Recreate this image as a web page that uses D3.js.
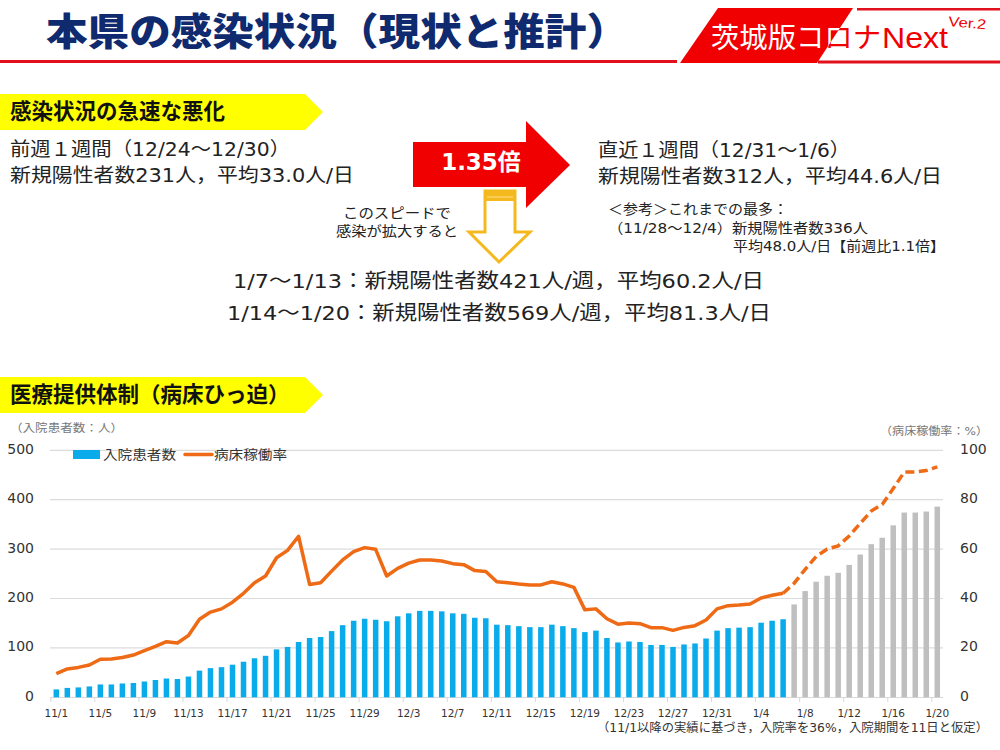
<!DOCTYPE html>
<html>
<head>
<meta charset="utf-8">
<script src="https://cdn.jsdelivr.net/npm/d3@7"></script>
<style>
html, body { margin: 0; padding: 0; background: #fff; }
svg { display: block; }
text { font-family: "DejaVu Sans", "Noto Sans CJK JP", sans-serif; fill: #222; }
.jp { font-family: "Noto Sans CJK JP", sans-serif; }
.axis .domain { display: none; }
.axis text { fill: #333; }
</style>
</head>
<body>
<div id="chart"></div>
<script>
var days = ['11/1','11/2','11/3','11/4','11/5','11/6','11/7','11/8','11/9','11/10','11/11','11/12','11/13','11/14','11/15','11/16','11/17','11/18','11/19','11/20','11/21','11/22','11/23','11/24','11/25','11/26','11/27','11/28','11/29','11/30',
    '12/1','12/2','12/3','12/4','12/5','12/6','12/7','12/8','12/9','12/10','12/11','12/12','12/13','12/14','12/15','12/16','12/17','12/18','12/19','12/20','12/21','12/22','12/23','12/24','12/25','12/26','12/27','12/28','12/29','12/30','12/31',
    '1/1','1/2','1/3','1/4','1/5','1/6','1/7','1/8','1/9','1/10','1/11','1/12','1/13','1/14','1/15','1/16','1/17','1/18','1/19','1/20'];
// actual patients up to 1/6, then the estimate
var patients = [16,19,20,22,26,26,28,29,32,35,38,37,42,54,59,61,66,72,79,84,97,102,112,120,122,134,146,155,159,157,
    154,164,170,175,175,174,170,169,161,160,147,146,144,142,142,147,144,140,132,135,120,111,113,112,106,106,102,107,109,119,135,
    140,141,142,151,155,158];
var patientsEst = [188,215,234,246,252,268,289,310,323,348,374,374,376,386];
var bedRate = [9.6,11.5,12.1,13.1,15.4,15.5,16.1,17.1,18.9,20.6,22.5,22,25,31.6,34.5,35.8,38.5,42.1,46.4,49.1,56.5,59.5,65.2,45.7,46.4,51.1,55.6,59,60.6,59.9,
    49.1,52.2,54.3,55.6,55.6,55.2,54.1,53.7,51.3,50.9,46.8,46.4,45.9,45.5,45.5,46.8,45.9,44.5,35.4,35.8,31.8,29.6,30.1,29.8,28.2,28.2,27.1,28.3,29,31.3,35.8,
    37.1,37.4,37.8,40.2,41.3,42.1];
var bedRateEst = [46.2,51.8,57,60,61.3,65.3,70.4,75.4,78.1,84.5,91.2,91.2,91.8,93.3];
var leftTicks = [0,100,200,300,400,500];
var rightTicks = [0,20,40,60,80,100];

var navy = '#0f2a6e', red = '#f00000', gold = '#f4b91f';

var svg = d3.select('#chart').append('svg').attr('width', 1000).attr('height', 750);

function addText(x, y, str, size, opts) {
    opts = opts || {};
    var t = svg.append('text')
        .attr('x', x)
        .attr('y', y)
        .attr('font-size', size)
        .attr('text-anchor', opts.anchor || 'start')
        .attr('font-weight', opts.weight || 'normal')
        .style('fill', opts.fill || '#222')
        .text(str);
    if (opts.cls) t.attr('class', opts.cls);
    if (opts.len) t.attr('textLength', opts.len).attr('lengthAdjust', 'spacingAndGlyphs');
    return t;
}

function addPoly(points, fill, stroke, sw) {
    return svg.append('polygon')
        .attr('points', points.join(' '))
        .attr('fill', fill)
        .attr('stroke', stroke || 'none')
        .attr('stroke-width', sw || 0);
}

// header
addText(46, 45, '本県の感染状況（現状と推計）', 38, {weight: 900, fill: navy, cls: 'jp', len: 582});
svg.append('rect').attr('x', 0).attr('y', 60).attr('width', 677).attr('height', 3).attr('fill', '#e2101c');
svg.append('rect').attr('x', 818).attr('y', 60.5).attr('width', 182).attr('height', 3).attr('fill', '#e2101c');
svg.append('rect').attr('x', 857).attr('y', 8).attr('width', 143).attr('height', 2.5).attr('fill', '#e2101c');

// brand: red text on white, same text in white where it crosses the red block
var brandBlock = ['718,8', '853,8', '817,63', '680,63'];
svg.append('clipPath').attr('id', 'brand-clip').append('polygon').attr('points', brandBlock.join(' '));
addText(711, 48, '茨城版コロナ', 28, {fill: red, cls: 'jp', len: 170});
svg.append('text').attr('x', 882).attr('y', 48).attr('font-size', 29)
    .attr('textLength', 66).attr('lengthAdjust', 'spacingAndGlyphs')
    .style('font-family', '"Liberation Sans", sans-serif').style('fill', red).text('Next');
addPoly(brandBlock, red);
addText(711, 48, '茨城版コロナ', 28, {fill: '#fff', cls: 'jp', len: 170}).attr('clip-path', 'url(#brand-clip)');
svg.append('text').attr('transform', 'translate(948,26) rotate(5)').attr('font-size', 14)
    .attr('textLength', 38).attr('lengthAdjust', 'spacingAndGlyphs')
    .style('font-family', '"Liberation Sans", sans-serif').style('fill', red).text('Ver.2');

// section banners
function banner(top, str) {
    addPoly(['0,' + top, '305,' + top, '323,' + (top + 18), '305,' + (top + 36), '0,' + (top + 36)], '#ffff00');
    addText(10, top + 25, str, 21.5, {weight: 700, fill: '#111', cls: 'jp'});
}
banner(94, '感染状況の急速な悪化');
banner(377, '医療提供体制（病床ひっ迫）');

// weekly summary text
addText(10, 156, '前週１週間（12/24～12/30）', 19, {len: 280});
addText(10, 182, '新規陽性者数231人，平均33.0人/日', 19, {len: 344});
addText(598, 157, '直近１週間（12/31～1/6）', 19, {len: 252});
addText(598, 183, '新規陽性者数312人，平均44.6人/日', 19, {len: 344});
addPoly(['413,142', '526,142', '526,121', '570,165', '526,208', '526,187', '413,187'], red);
addText(481, 170, '1.35倍', 23, {anchor: 'middle', weight: 700, fill: '#fff'});

// yellow arrow
addPoly(['485,191', '515,191', '515,232', '530,232', '499,262', '469,232', '485,232'], '#fff', gold, 3);
svg.append('rect').attr('x', 484).attr('y', 190).attr('width', 32).attr('height', 11).attr('fill', gold);
svg.append('line').attr('x1', 487).attr('y1', 197).attr('x2', 513).attr('y2', 197).attr('stroke', '#fbe08a').attr('stroke-width', 1);

addText(397, 218, 'このスピードで', 14, {anchor: 'middle', len: 108});
addText(397, 236, '感染が拡大すると', 14, {anchor: 'middle', len: 122});
addText(608, 214, '＜参考＞これまでの最多：', 14, {len: 180});
addText(608, 233, '（11/28～12/4）新規陽性者数336人', 14, {len: 260});
addText(733, 251, '平均48.0人/日【前週比1.1倍】', 14, {len: 212});
addText(233, 288, '1/7～1/13：新規陽性者数421人/週，平均60.2人/日', 20, {len: 531});
addText(227, 320, '1/14～1/20：新規陽性者数569人/週，平均81.3人/日', 20, {len: 544});

// chart
var x = d3.scaleBand().domain(days).range([50.8, 942.8]).paddingInner(0.5).paddingOuter(0.25);
var yLeft = d3.scaleLinear().domain([0, 500]).range([697.3, 450.3]);
var yRight = d3.scaleLinear().domain([0, 100]).range([697.3, 450.3]);
var allPatients = patients.concat(patientsEst);
var allRate = bedRate.concat(bedRateEst);
var firstEst = patients.length;

svg.append('g').selectAll('line')
    .data(leftTicks.slice(1))
    .enter().append('line')
    .attr('x1', 50)
    .attr('x2', 943)
    .attr('y1', function(d) { return yLeft(d); })
    .attr('y2', function(d) { return yLeft(d); })
    .attr('stroke', '#dcdcdc')
    .attr('stroke-width', 1.2);

svg.append('g')
    .attr('class', 'axis')
    .attr('transform', 'translate(34,1.5)')
    .call(d3.axisLeft(yLeft).tickValues(leftTicks).tickSize(0).tickPadding(0))
    .selectAll('text').attr('font-size', 14).attr('dy', '0.1em');

svg.append('g')
    .attr('class', 'axis')
    .attr('transform', 'translate(960,1.5)')
    .call(d3.axisRight(yRight).tickValues(rightTicks).tickSize(0).tickPadding(0))
    .selectAll('text').attr('font-size', 14).attr('dy', '0.1em');

var tickDays = days.filter(function(d, i) { return i % 4 === 0; });
svg.append('g')
    .attr('class', 'axis')
    .attr('transform', 'translate(0,710)')
    .call(d3.axisBottom(x).tickValues(tickDays).tickSize(0).tickPadding(0))
    .selectAll('text').attr('font-size', 10.5);

// baseline and tick marks at the category edges
svg.append('line').attr('x1', 50).attr('x2', 943).attr('y1', 697.5).attr('y2', 697.5).attr('stroke', '#d9d9d9');
svg.append('g').selectAll('line')
    .data(tickDays)
    .enter().append('line')
    .attr('x1', function(d) { return x(d) - x.step() * 0.25; })
    .attr('x2', function(d) { return x(d) - x.step() * 0.25; })
    .attr('y1', 697.5)
    .attr('y2', 702)
    .attr('stroke', '#d9d9d9');

svg.append('g').selectAll('rect')
    .data(allPatients)
    .enter().append('rect')
    .attr('x', function(d, i) { return x(days[i]); })
    .attr('y', function(d) { return yLeft(d); })
    .attr('width', x.bandwidth())
    .attr('height', function(d) { return yLeft(0) - yLeft(d); })
    .attr('fill', function(d, i) { return i < firstEst ? '#0aabea' : '#bfbfbf'; });

var line = d3.line()
    .x(function(d) { return x(d.day) + x.bandwidth() / 2; })
    .y(function(d) { return yRight(d.rate); });
var ratePoints = allRate.map(function(r, i) { return {day: days[i], rate: r}; });

svg.append('path')
    .datum(ratePoints.slice(0, firstEst))
    .attr('d', line)
    .attr('fill', 'none')
    .attr('stroke', '#ee6a14')
    .attr('stroke-width', 3.5)
    .attr('stroke-linejoin', 'round');
svg.append('path')
    .datum(ratePoints.slice(firstEst - 1))
    .attr('d', line)
    .attr('fill', 'none')
    .attr('stroke', '#ee6a14')
    .attr('stroke-width', 3.5)
    .attr('stroke-dasharray', '9 4.5');

// legend
svg.append('rect').attr('x', 73).attr('y', 450).attr('width', 27).attr('height', 9).attr('fill', '#0aabea');
addText(103, 459, '入院患者数', 13, {len: 73, fill: '#333'});
svg.append('line').attr('x1', 185).attr('x2', 212).attr('y1', 454.5).attr('y2', 454.5).attr('stroke', '#ee6a14').attr('stroke-width', 3.5).attr('stroke-linecap', 'round');
addText(214, 459, '病床稼働率', 13, {len: 73, fill: '#333'});

// axis titles and note
addText(10, 432, '（入院患者数：人）', 11, {fill: '#777', len: 113});
addText(880, 435, '（病床稼働率：%）', 11, {fill: '#777', len: 108});
addText(597, 732, '（11/1以降の実績に基づき，入院率を36%，入院期間を11日と仮定）', 12, {fill: '#333', len: 391});
</script>
</body>
</html>
